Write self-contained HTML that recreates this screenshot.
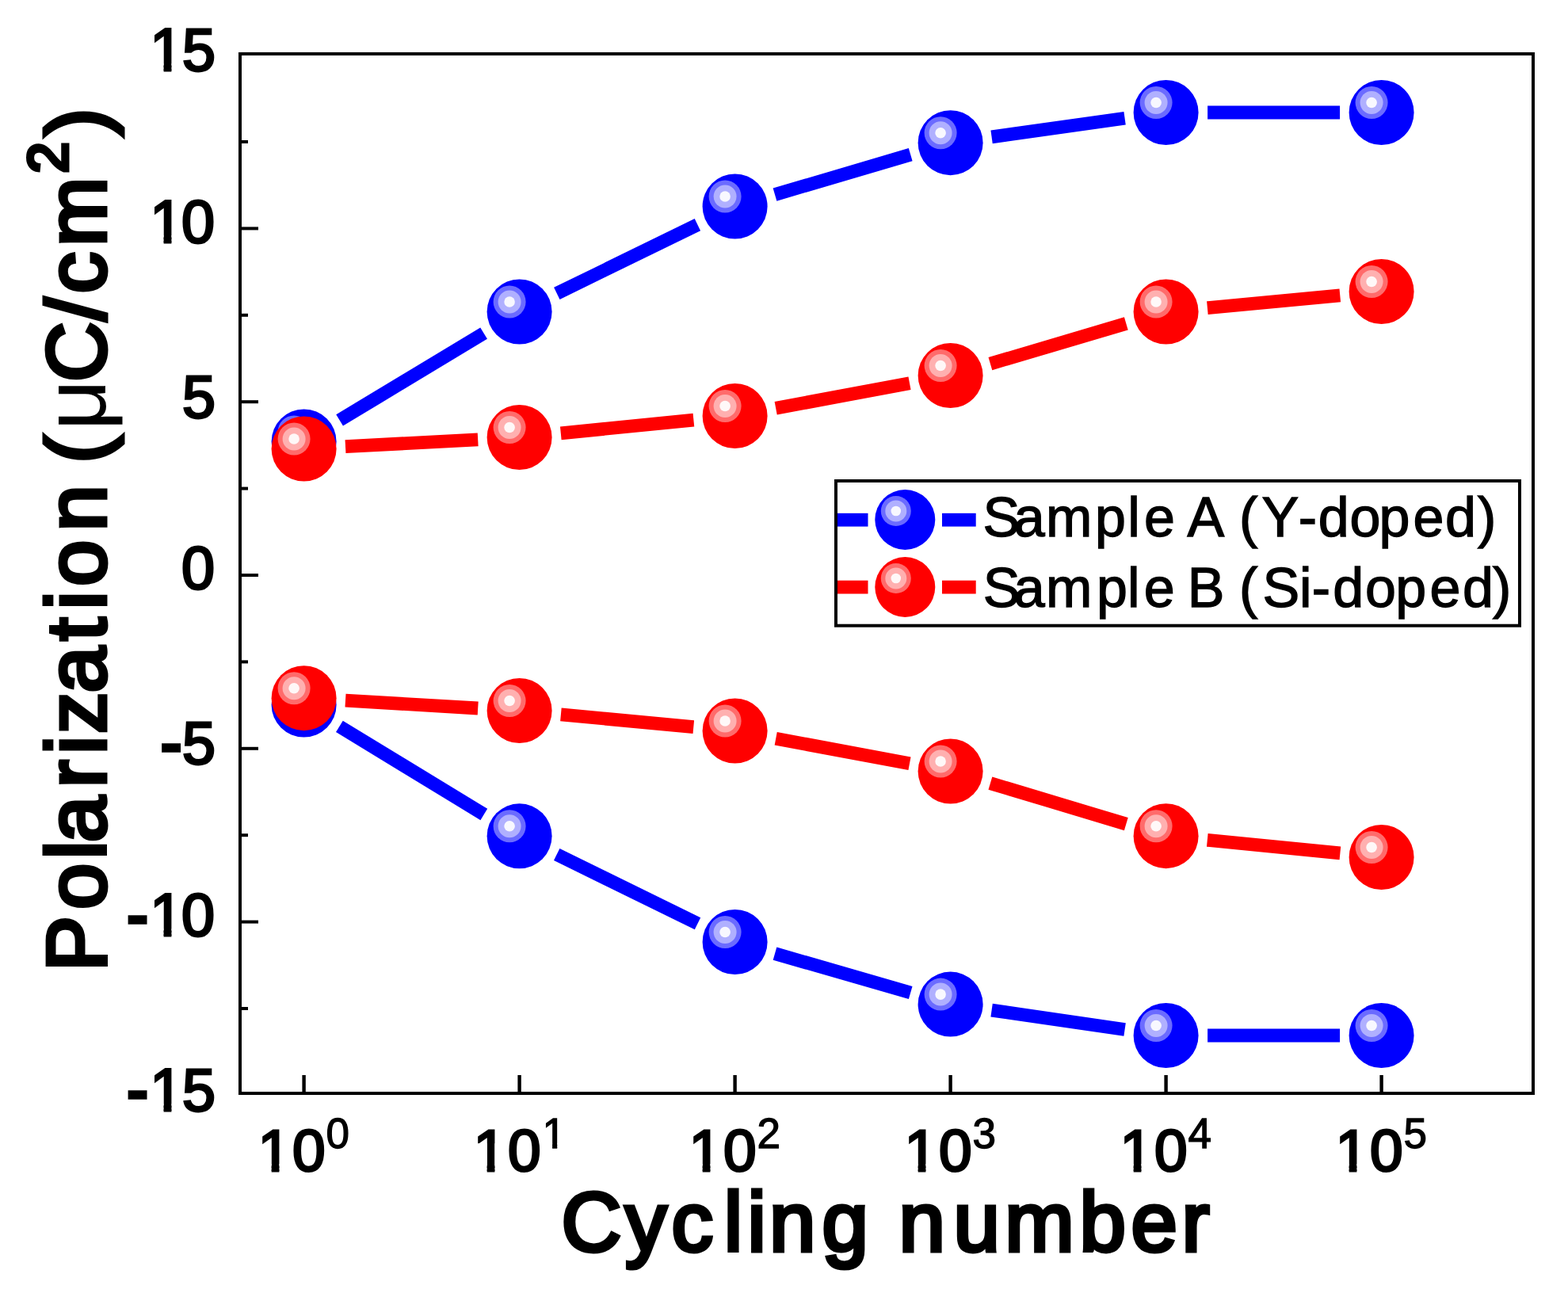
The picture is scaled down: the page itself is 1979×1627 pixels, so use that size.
<!DOCTYPE html>
<html><head><meta charset="utf-8"><title>Polarization vs Cycling number</title>
<style>html,body{margin:0;padding:0;background:#fff;overflow:hidden}svg{display:block}</style>
</head><body>
<svg width="1979" height="1627" viewBox="0 0 1979 1627">
<defs>
<g id="b"><circle r="41" fill="#0000ff"/><circle cx="-12.5" cy="-12.5" r="20.5" fill="#6b6bff"/><circle cx="-12.5" cy="-12.5" r="14.5" fill="#b0b0ff"/><circle cx="-12.5" cy="-12.5" r="6.8" fill="#f8f8ff"/></g>
<g id="r"><circle r="41" fill="#ff0000"/><circle cx="-12.5" cy="-12.5" r="20.5" fill="#ff6b6b"/><circle cx="-12.5" cy="-12.5" r="14.5" fill="#ffb0b0"/><circle cx="-12.5" cy="-12.5" r="6.8" fill="#fff8f8"/></g>
<g id="bl"><circle r="38" fill="#0000ff"/><circle cx="-11.5" cy="-11" r="19" fill="#6b6bff"/><circle cx="-11.5" cy="-11" r="13.5" fill="#b0b0ff"/><circle cx="-11.5" cy="-11" r="6.3" fill="#f8f8ff"/></g>
<g id="rl"><circle r="38" fill="#ff0000"/><circle cx="-11.5" cy="-11" r="19" fill="#ff6b6b"/><circle cx="-11.5" cy="-11" r="13.5" fill="#ffb0b0"/><circle cx="-11.5" cy="-11" r="6.3" fill="#fff8f8"/></g>
<clipPath id="cy0" clipPathUnits="userSpaceOnUse"><rect x="164.9" y="-119.6" width="133.8" height="200"/><rect x="206.6" y="79.4" width="9.8" height="12.5"/><rect x="230.8" y="79.4" width="40.0" height="49.4"/></clipPath><clipPath id="cy1" clipPathUnits="userSpaceOnUse"><rect x="164.9" y="97.3" width="133.2" height="200"/><rect x="206.6" y="296.3" width="9.8" height="12.5"/><rect x="229.9" y="296.3" width="40.3" height="49.4"/></clipPath><clipPath id="cy5" clipPathUnits="userSpaceOnUse"><rect x="134.3" y="972.4" width="163.8" height="200"/><rect x="161.0" y="1171.4" width="25.1" height="49.4"/><rect x="206.6" y="1171.4" width="9.8" height="12.5"/><rect x="229.9" y="1171.4" width="40.3" height="49.4"/></clipPath><clipPath id="cy6" clipPathUnits="userSpaceOnUse"><rect x="134.3" y="1193.5" width="164.4" height="200"/><rect x="161.0" y="1392.5" width="25.1" height="49.4"/><rect x="206.6" y="1392.5" width="9.8" height="12.5"/><rect x="230.8" y="1392.5" width="40.0" height="49.4"/></clipPath><clipPath id="cx0" clipPathUnits="userSpaceOnUse"><rect x="301.2" y="1269.3" width="167.6" height="200"/><rect x="342.7" y="1468.3" width="9.7" height="12.5"/><rect x="369.9" y="1468.3" width="40.0" height="49.4"/><rect x="412.2" y="1468.3" width="27.8" height="20.9"/></clipPath><clipPath id="cx1" clipPathUnits="userSpaceOnUse"><rect x="573.2" y="1243.3" width="168.1" height="200"/><rect x="614.7" y="1442.3" width="9.7" height="38.5"/><rect x="641.9" y="1442.3" width="40.0" height="75.4"/><rect x="697.1" y="1442.3" width="6.1" height="9.2"/></clipPath><clipPath id="cx2" clipPathUnits="userSpaceOnUse"><rect x="845.2" y="1269.3" width="167.0" height="200"/><rect x="886.7" y="1468.3" width="9.7" height="12.5"/><rect x="913.9" y="1468.3" width="40.0" height="49.4"/><rect x="956.8" y="1468.3" width="26.6" height="20.9"/></clipPath><clipPath id="cx3" clipPathUnits="userSpaceOnUse"><rect x="1117.2" y="1269.3" width="167.5" height="200"/><rect x="1158.7" y="1468.3" width="9.7" height="12.5"/><rect x="1185.9" y="1468.3" width="40.0" height="49.4"/><rect x="1228.3" y="1468.3" width="27.6" height="20.9"/></clipPath><clipPath id="cx4" clipPathUnits="userSpaceOnUse"><rect x="1389.2" y="1269.3" width="168.3" height="200"/><rect x="1430.7" y="1468.3" width="9.7" height="12.5"/><rect x="1457.9" y="1468.3" width="40.0" height="49.4"/><rect x="1499.5" y="1468.3" width="29.2" height="20.9"/></clipPath><clipPath id="cx5" clipPathUnits="userSpaceOnUse"><rect x="1661.2" y="1269.3" width="167.5" height="200"/><rect x="1702.7" y="1468.3" width="9.7" height="12.5"/><rect x="1729.9" y="1468.3" width="40.0" height="49.4"/><rect x="1772.3" y="1468.3" width="27.6" height="20.9"/></clipPath>
</defs>
<rect width="1979" height="1627" fill="#fff"/>
<rect x="303" y="68" width="1632" height="1312" fill="none" stroke="#000" stroke-width="4"/>
<g fill="#000"><rect x="303" y="1271.0" width="10" height="4"/><rect x="303" y="1161.6" width="23" height="4"/><rect x="303" y="1052.2" width="10" height="4"/><rect x="303" y="942.8" width="23" height="4"/><rect x="303" y="833.4" width="10" height="4"/><rect x="303" y="724.0" width="23" height="4"/><rect x="303" y="614.6" width="10" height="4"/><rect x="303" y="505.2" width="23" height="4"/><rect x="303" y="395.8" width="10" height="4"/><rect x="303" y="286.4" width="23" height="4"/><rect x="303" y="177.0" width="10" height="4"/><rect x="381.4" y="1357" width="4.4" height="23"/><rect x="653.4" y="1357" width="4.4" height="23"/><rect x="925.4" y="1357" width="4.4" height="23"/><rect x="1197.4" y="1357" width="4.4" height="23"/><rect x="1469.4" y="1357" width="4.4" height="23"/><rect x="1741.4" y="1357" width="4.4" height="23"/></g>
<g stroke="#0000ff" stroke-width="16.8" stroke-linecap="butt"><line x1="428.6" y1="530.4" x2="610.6" y2="420.6"/><line x1="702.8" y1="370.4" x2="880.4" y2="283.6"/><line x1="978.0" y1="245.6" x2="1149.2" y2="195.1"/><line x1="1251.6" y1="172.9" x2="1419.6" y2="149.3"/><line x1="1524.1" y1="142.0" x2="1691.1" y2="142.0"/></g>
<g stroke="#0000ff" stroke-width="16.8" stroke-linecap="butt"><line x1="428.4" y1="916.9" x2="610.8" y2="1028.0"/><line x1="702.7" y1="1078.5" x2="880.5" y2="1165.8"/><line x1="978.0" y1="1203.6" x2="1149.2" y2="1253.0"/><line x1="1251.6" y1="1275.1" x2="1419.6" y2="1299.5"/><line x1="1524.1" y1="1307.0" x2="1691.1" y2="1307.0"/></g>
<use href="#b" x="383.6" y="557.5"/><use href="#b" x="655.6" y="393.5"/><use href="#b" x="927.6" y="260.5"/><use href="#b" x="1199.6" y="180.2"/><use href="#b" x="1471.6" y="142.0"/><use href="#b" x="1743.6" y="142.0"/>
<use href="#b" x="383.6" y="889.6"/><use href="#b" x="655.6" y="1055.3"/><use href="#b" x="927.6" y="1189.0"/><use href="#b" x="1199.6" y="1267.6"/><use href="#b" x="1471.6" y="1307.0"/><use href="#b" x="1743.6" y="1307.0"/>
<g stroke="#ff0000" stroke-width="16.8" stroke-linecap="butt"><line x1="436.0" y1="563.7" x2="603.2" y2="554.8"/><line x1="707.8" y1="546.8" x2="875.4" y2="530.2"/><line x1="979.2" y1="515.3" x2="1148.0" y2="483.7"/><line x1="1249.9" y1="459.1" x2="1421.3" y2="408.4"/><line x1="1523.9" y1="388.6" x2="1691.3" y2="372.9"/></g>
<g stroke="#ff0000" stroke-width="16.8" stroke-linecap="butt"><line x1="436.0" y1="884.2" x2="603.2" y2="894.0"/><line x1="707.9" y1="901.9" x2="875.3" y2="917.6"/><line x1="979.2" y1="932.2" x2="1148.0" y2="963.8"/><line x1="1249.9" y1="988.6" x2="1421.3" y2="1040.1"/><line x1="1523.8" y1="1060.3" x2="1691.4" y2="1076.9"/></g>
<use href="#r" x="383.6" y="566.5"/><use href="#r" x="655.6" y="552.0"/><use href="#r" x="927.6" y="525.0"/><use href="#r" x="1199.6" y="474.0"/><use href="#r" x="1471.6" y="393.5"/><use href="#r" x="1743.6" y="368.0"/>
<use href="#r" x="383.6" y="881.2"/><use href="#r" x="655.6" y="897.0"/><use href="#r" x="927.6" y="922.5"/><use href="#r" x="1199.6" y="973.5"/><use href="#r" x="1471.6" y="1055.2"/><use href="#r" x="1743.6" y="1082.0"/>
<rect x="1055" y="607" width="863" height="182.7" fill="none" stroke="#000" stroke-width="4"/>
<g fill="#0000ff"><rect x="1057" y="647.8" width="38.5" height="16.8"/><rect x="1189" y="647.8" width="42.7" height="16.8"/></g>
<use href="#bl" x="1142.3" y="656"/>
<g fill="#ff0000"><rect x="1057" y="732.7" width="38.5" height="16.8"/><rect x="1189" y="732.7" width="42.7" height="16.8"/></g>
<use href="#rl" x="1142.3" y="741"/>
<g font-family="'Liberation Sans', Arial, sans-serif" font-size="70" fill="#000" stroke="#000" stroke-width="1.4"><text x="1240.4 1279.7 1320.0 1382.1 1423.2 1444.0 1482.9 1498.6 1545.3 1563.9 1592.6 1638.8 1663.8 1703.5 1740.4 1783.6 1824.1 1865.1" y="676.5">Sample A (Y-doped)</text><text x="1240.7 1279.7 1320.1 1384.0 1423.1 1443.7 1482.6 1498.8 1545.5 1564.1 1587.4 1593.5 1640.0 1655.8 1682.2 1722.9 1761.2 1804.4 1846.0 1883.9" y="766">Sample B ( Si-doped)</text></g>
<g font-family="'Liberation Sans', Arial, sans-serif" font-size="75.5" fill="#000" stroke="#000" stroke-width="3.0"><text x="189.2 229.9" y="88.8" clip-path="url(#cy0)">15</text><text x="189.2 229.1" y="305.7" clip-path="url(#cy1)">10</text><text x="229.9" y="526.6">5</text><text x="229.1" y="743.0">0</text><text y="964.1"><tspan x="203.4" stroke-width="5.5">-</tspan><tspan x="229.9">5</tspan></text><text y="1180.8" clip-path="url(#cy5)"><tspan x="161.0" stroke-width="5.5">-</tspan><tspan x="189.2 229.1">10</tspan></text><text y="1401.9" clip-path="url(#cy6)"><tspan x="161.0" stroke-width="5.5">-</tspan><tspan x="189.2 229.9">15</tspan></text></g>
<g font-family="'Liberation Sans', Arial, sans-serif" font-size="74.8" fill="#000" stroke="#000" stroke-width="3.0"><text y="1477.7" clip-path="url(#cx0)"><tspan x="325.5 369.1">10</tspan><tspan x="411.4" y="1449.2" font-size="53" stroke-width="1.3">0</tspan></text><text y="1477.7" clip-path="url(#cx1)"><tspan x="597.5 641.1">10</tspan><tspan x="684.4" y="1449.2" font-size="53" stroke-width="1.3">1</tspan></text><text y="1477.7" clip-path="url(#cx2)"><tspan x="869.5 913.1">10</tspan><tspan x="955.4" y="1449.2" font-size="53" stroke-width="1.3">2</tspan></text><text y="1477.7" clip-path="url(#cx3)"><tspan x="1141.5 1185.1">10</tspan><tspan x="1227.5" y="1449.2" font-size="53" stroke-width="1.3">3</tspan></text><text y="1477.7" clip-path="url(#cx4)"><tspan x="1413.5 1457.1">10</tspan><tspan x="1499.5" y="1449.2" font-size="53" stroke-width="1.3">4</tspan></text><text y="1477.7" clip-path="url(#cx5)"><tspan x="1685.5 1729.1">10</tspan><tspan x="1771.4" y="1449.2" font-size="53" stroke-width="1.3">5</tspan></text></g>
<text font-family="'Liberation Sans', Arial, sans-serif" font-size="105" stroke="#000" stroke-width="5.0" x="708.6 788.9 847.5 913.8 943.6 971.0 1037.5 1095.9 1134.5 1203.6 1268.3 1362.6 1427.5 1491.4" y="1579">Cycling number</text>
<text font-family="'Liberation Sans', Arial, sans-serif" font-size="105" fill="#000" stroke="#000" stroke-width="5.0" transform="translate(132.5,1230) rotate(-90)" y="0"><tspan x="4.0 81.9 145.6 166.8 235.7 278.0 304.1 355.6 421.2 460.5 489.9 559.5 617.9 645.3">Polarization (</tspan><tspan x="686.8" font-size="112" stroke-width="0">μ</tspan><tspan x="748.0 825.1 859.4 919.0">C/cm</tspan><tspan x="1011.6" y="-47.3" font-size="70">2</tspan><tspan x="1058.5" y="0">)</tspan></text>
</svg>
</body></html>
